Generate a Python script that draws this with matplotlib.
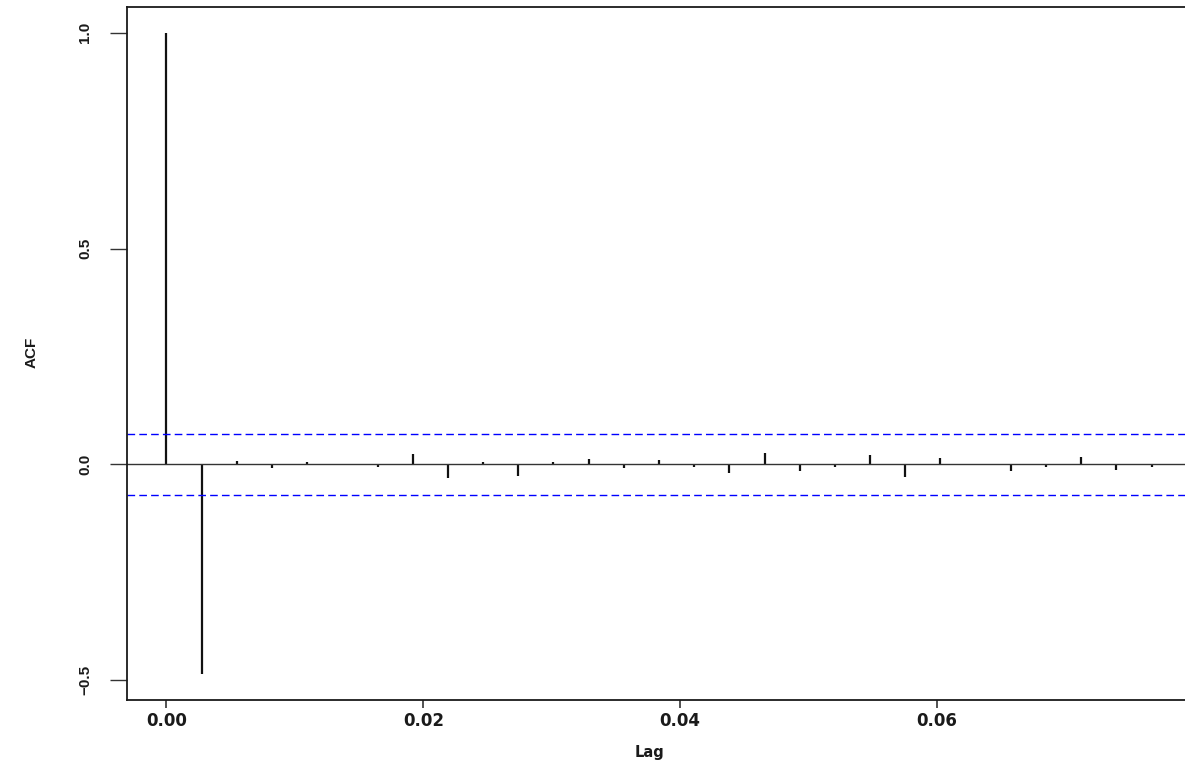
import numpy as np
import matplotlib
matplotlib.use("Agg")
import matplotlib.pyplot as plt

# ACF values, lags 0..28 (lag unit = 1/365)
lag_index = list(range(29))
acf_values = [1.000, -0.486, 0.007, -0.009, 0.005, -0.002, -0.007, 0.024, -0.032, 0.005,
              -0.027, 0.005, 0.012, -0.008, 0.010, -0.007, -0.019, 0.026, -0.015, -0.007,
              0.022, -0.028, 0.014, 0.001, -0.014, -0.007, 0.017, -0.012, -0.006]
conf_bound = 0.0705
x_ticks = [0.00, 0.02, 0.04, 0.06]
x_tick_labels = ["0.00", "0.02", "0.04", "0.06"]
y_ticks = [-0.5, 0.0, 0.5, 1.0]
y_tick_labels = ["\u22120.5", "0.0", "0.5", "1.0"]

lags = np.array(lag_index) / 365.0
acf = np.array(acf_values)

W, H = 1185, 765
fig = plt.figure(figsize=(W / 100, H / 100), dpi=100)
left, right, top, bottom = 127, 1191, 7, 700
ax = fig.add_axes([left / W, (H - bottom) / H, (right - left) / W, (bottom - top) / H])

ax.vlines(lags, 0, acf, colors="#111111", linewidth=1.6)
ax.axhline(0, color="#333333", linewidth=1.0)
for s in (conf_bound, -conf_bound):
    ax.axhline(s, color="#0000ff", linewidth=1.0, linestyle=(0, (5.5, 3.0)))

span_x = lags.max() - lags.min()
ax.set_xlim(lags.min() - 0.04 * span_x, lags.max() + 0.04 * span_x)
span_y = acf.max() - acf.min()
ax.set_ylim(acf.min() - 0.04 * span_y, acf.max() + 0.04 * span_y)

for sp in ax.spines.values():
    sp.set_color("#1a1a1a")
    sp.set_linewidth(1.3)

ax.set_xticks(x_ticks)
ax.set_xticklabels(x_tick_labels, fontfamily="DejaVu Sans", fontweight="bold",
                   fontsize=12, color="#1a1a1a")
ax.set_yticks(y_ticks)
ax.set_yticklabels(y_tick_labels, fontfamily="Liberation Sans", fontweight="bold",
                   fontsize=11, color="#1a1a1a", rotation=90, va="center")
ax.tick_params(axis="x", length=6, width=1.2, color="#333333", pad=3)
ax.tick_params(axis="y", length=12, width=1.0, color="#333333", pad=13)

ax.set_xlabel("Lag", fontfamily="DejaVu Sans", fontweight="bold", fontsize=10.5,
              color="#1a1a1a")
ax.xaxis.set_label_coords((650 - left) / (right - left), -(752 - bottom) / (bottom - top))
ax.xaxis.label.set_va("center")
ax.set_ylabel("ACF", fontfamily="Liberation Sans", fontweight="bold", fontsize=11,
              color="#1a1a1a")
ax.yaxis.set_label_coords((32 - left) / (right - left), (bottom - 352) / (bottom - top))
ax.yaxis.label.set_va("center")

fig.savefig("out.png", dpi=100)
